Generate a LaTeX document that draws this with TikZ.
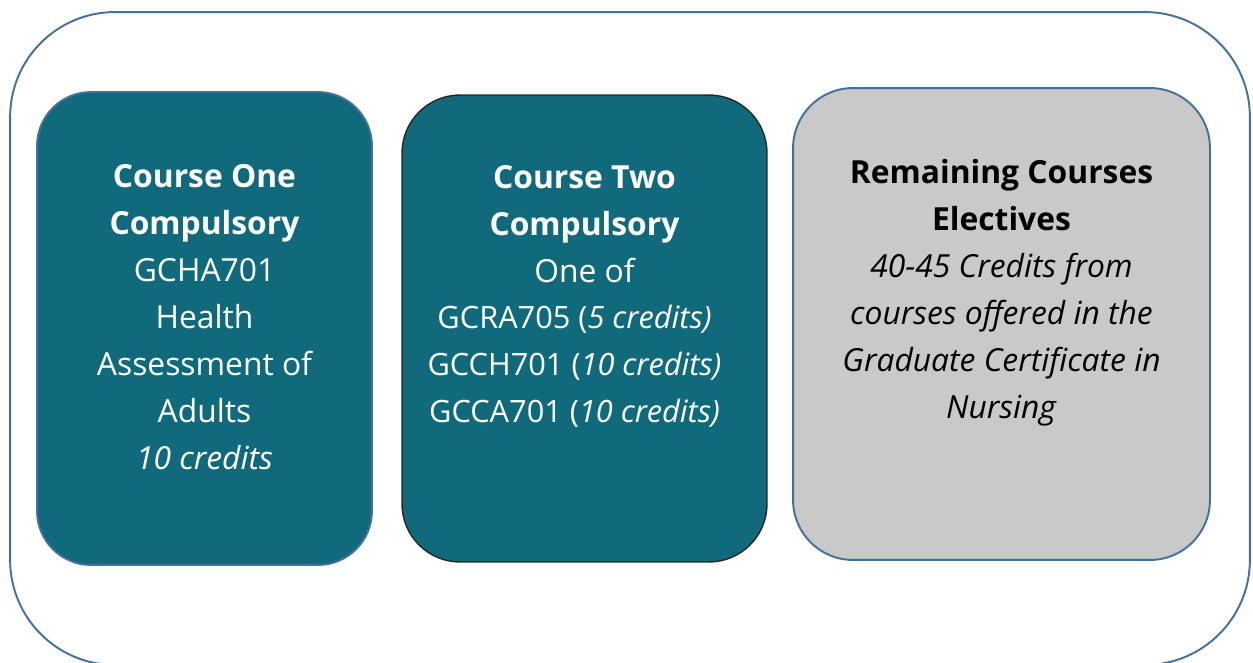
\documentclass[tikz,border=0pt]{standalone}
\usepackage{fontspec}
\setmainfont{Open Sans}
\usetikzlibrary{positioning}
\definecolor{courseteal}{RGB}{17,106,123}
\definecolor{frameblue}{RGB}{65,113,156}
\definecolor{electgrey}{RGB}{201,201,201}
\newcommand{\codesize}{\fontsize{17.5pt}{26.7pt}\selectfont}

\begin{document}
\begin{tikzpicture}[
    x=0.02cm, y=-0.02cm,
    course/.style={rectangle, line width=1.1pt, inner sep=0pt},
    coursetext/.style={anchor=north, align=center, inner sep=0pt, font=\fontsize{18.1pt}{26.7pt}\selectfont},
]

% page size (1253 x 662 px)
\useasboundingbox (0, 0) rectangle (1253, 662);

% outer frame, its bottom edge runs off the page
\node[course, draw=frameblue, rounded corners=2.1cm, minimum width=24.8cm, minimum height=13.06cm] (frame) at (630, 338.5) {};

% the three course boxes
\node[course, fill=courseteal, draw=frameblue, rounded corners=1.08cm, minimum width=6.7cm, minimum height=9.46cm] (one) at (204.5, 328.5) {};
\node[course, fill=courseteal, draw=black!85, line width=0.8pt, rounded corners=1.16cm, minimum width=7.3cm, minimum height=9.34cm] (two) at (584.5, 328.5) {};
\node[course, fill=electgrey, draw=frameblue, rounded corners=1.2cm, minimum width=8.34cm, minimum height=9.44cm] (rest) at (1001.5, 324) {};

% box texts
\node[coursetext, text=white, below=1.47cm of one.north] (onetext) {\textbf{Course One}\\\textbf{Compulsory}\\GCHA701\\Health\\Assessment of\\Adults\\\textit{10 credits}};
\node[coursetext, text=white, below=1.41cm of two.north] (twotext) {\textbf{Course Two}\\\textbf{Compulsory}\\One of\\{\codesize GCRA705 (\textit{5 credits)}\kern0.4cm}\\{\codesize GCCH701 (\textit{10 credits)}\kern0.4cm}\\{\codesize GCCA701 (\textit{10 credits)}\kern0.4cm}};
\node[coursetext, text=black, below=1.44cm of rest.north] (resttext) {\textbf{Remaining Courses}\\\textbf{Electives}\\\textit{40-45 Credits from}\\\textit{courses offered in the}\\\textit{Graduate Certificate in}\\\textit{Nursing}};

\end{tikzpicture}
\end{document}
